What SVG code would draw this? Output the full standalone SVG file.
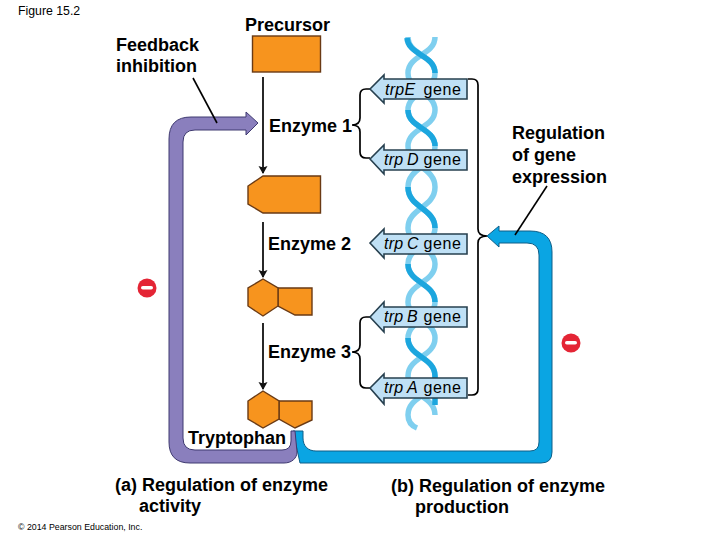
<svg xmlns="http://www.w3.org/2000/svg" width="720" height="540" viewBox="0 0 720 540">
<defs>
<marker id="ah" markerWidth="8" markerHeight="11" refX="7" refY="5" orient="auto" markerUnits="userSpaceOnUse"><path d="M0,0.5 L8,5 L0,9.5 L1.5,5 Z" fill="#111"/></marker>
</defs>
<style>
text{font-family:"Liberation Sans",Arial,sans-serif;fill:#000}
.b{font-weight:bold;font-size:18px}
.g{font-size:16px;letter-spacing:.6px}
.g .i{font-style:italic;letter-spacing:.3px}
.o{fill:#f7941e;stroke:#6a3a14;stroke-width:1.4}
.lab{fill:#bfe0f5;stroke:#27404f;stroke-width:1.6}
.sh{fill:none;stroke:#111;stroke-width:1.8}
.br{fill:none;stroke:#000;stroke-width:1.7}
.st{fill:none;stroke-width:5.5}
.min{fill:#e42535}
</style>
<rect width="720" height="540" fill="#fff"/>
<g id="dna">
<path class="st" stroke="#7fcfef" d="M408,37 C408,55 435,55 435,73 C435,92 408,92 408,110 C408,128 435,128 435,146 C435,167 408,167 408,187 C408,208 435,208 435,228 C435,246 408,246 408,264 C408,283 435,283 435,302 C435,320 408,320 408,338 C408,357 435,357 435,376 C435,396 408,396 408,415 C408,422 412,426 417,428"/>
<path class="st" stroke="#7fcfef" d="M435,37 C435,55 408,55 408,73 C408,92 435,92 435,110 C435,128 408,128 408,146 C408,167 435,167 435,187 C435,208 408,208 408,228 C408,246 435,246 435,264 C435,283 408,283 408,302 C408,320 435,320 435,338 C435,357 408,357 408,376 C408,396 435,396 435,415"/>
<path class="st" stroke="#1ca6de" d="M407,38 C408,55 435,55 435,73 M408,110 C408,128 435,128 435,146 M408,187 C408,208 435,208 435,228 M408,264 C408,283 435,283 435,302 M408,338 C408,357 435,357 435,376 L435,405"/>
</g>
<g id="connectors">
<line class="sh" x1="263" y1="77" x2="263" y2="173" marker-end="url(#ah)"/>
<line class="sh" x1="263" y1="222" x2="263" y2="277" marker-end="url(#ah)"/>
<line class="sh" x1="263" y1="323" x2="263" y2="389" marker-end="url(#ah)"/>
<path id="blue-loop" fill="#0aa5e3" stroke="#0f5f88" stroke-width="1" d="M293,431 L303,431 L303,438 C303,446 308,451 316,451 L530,451 Q539,451 539,442 L539,255 Q539,243 527,243 L499,243 L499,247 L487,236 L499,226 L499,231 L530,231 Q552,231 552,252 L552,452 Q552,463 541,463 L300,463 Z"/>
<path id="purple-loop" fill="#8a7fbd" stroke="#3f3a70" stroke-width="1" d="M291,431 L291,441 Q291,450 282,450 L195,450 Q183,450 183,438 L183,142 Q183,130 195,130 L246,130 L246,135 L258,123 L246,112 L246,117 L191,117 Q169,117 169,139 L169,442 Q169,463 190,463 L284,463 C292,463 297,458 297,452 L295,431 Z"/>
<line x1="193" y1="78" x2="217" y2="123" stroke="#000" stroke-width="1.6"/>
<line x1="547" y1="186" x2="515" y2="235" stroke="#000" stroke-width="1.6"/>
<path class="br" d="M370,89 L366,89 Q360,89 360,95 L360,118 Q360,125 352,125 Q360,125 360,132 L360,152 Q360,158 366,158 L370,158"/>
<path class="br" d="M370,317 L366,317 Q360,317 360,323 L360,345 Q360,352 352,352 Q360,352 360,359 L360,382 Q360,388 366,388 L370,388"/>
<path class="br" d="M468,79 L472,79 Q478,79 478,85 L478,229 Q478,236 487,236 Q478,236 478,243 L478,389 Q478,395 472,395 L468,395"/>
</g>
<g id="precursor"><rect class="o" x="252.5" y="36" width="68" height="36"/></g>
<g id="intermediate1"><path class="o" d="M263,176 L320.5,176 L320.5,213 L263,213 L248,204 L248,186 Z"/></g>
<g id="intermediate2"><path class="o" d="M278,288 L312,288 L312,315 L295,315 L278,306 Z"/><path class="o" d="M263,279 L278,288 L278,306 L263,316 L248,306 L248,288 Z"/></g>
<g id="tryptophan-shape"><path class="o" d="M279,401 L312,401 L312,420 L295,428 L279,419 Z"/><path class="o" d="M263,391 L279,401 L279,419 L263,428 L248,419 L248,401 Z"/></g>
<g id="gene-e"><path class="lab" d="M370,89 L384,75 L384,79 L467,79 L467,99 L384,99 L384,103 Z"/><text class="g" y="95"><tspan class="i" x="385">trpE</tspan><tspan x="418.5"> gene</tspan></text></g>
<g id="gene-d"><path class="lab" d="M370,159 L384,145 L384,150 L467,150 L467,170 L384,170 L384,174 Z"/><text class="g" y="165"><tspan class="i" x="384">trp</tspan><tspan class="i" x="407">D</tspan><tspan x="418.5"> gene</tspan></text></g>
<g id="gene-c"><path class="lab" d="M370,243 L384,229 L384,234 L467,234 L467,254 L384,254 L384,258 Z"/><text class="g" y="249"><tspan class="i" x="384">trp</tspan><tspan class="i" x="407">C</tspan><tspan x="418.5"> gene</tspan></text></g>
<g id="gene-b"><path class="lab" d="M370,317 L384,302 L384,307 L467,307 L467,327 L384,327 L384,332 Z"/><text class="g" y="322"><tspan class="i" x="384">trp</tspan><tspan class="i" x="407">B</tspan><tspan x="418.5"> gene</tspan></text></g>
<g id="gene-a"><path class="lab" d="M370,388 L384,374 L384,378 L467,378 L467,398 L384,398 L384,404 Z"/><text class="g" y="393"><tspan class="i" x="384">trp</tspan><tspan class="i" x="407">A</tspan><tspan x="418.5"> gene</tspan></text></g>
<g id="minus-a"><circle class="min" cx="147" cy="288" r="9.5"/><rect x="141" y="286" width="12" height="3.6" rx="1.8" fill="#fff"/></g>
<g id="minus-b"><circle class="min" cx="571" cy="343" r="9.5"/><rect x="565" y="341" width="12" height="3.6" rx="1.8" fill="#fff"/></g>
<g id="labels">
<text x="18" y="15" font-size="12.3">Figure 15.2</text>
<text class="b" x="245" y="31">Precursor</text>
<text class="b" x="116" y="51">Feedback</text>
<text class="b" x="116" y="72">inhibition</text>
<text class="b" x="269" y="132">Enzyme 1</text>
<text class="b" x="268" y="250">Enzyme 2</text>
<text class="b" x="268" y="358">Enzyme 3</text>
<text class="b" x="512" y="139">Regulation</text>
<text class="b" x="512" y="161">of gene</text>
<text class="b" x="512" y="183">expression</text>
<text class="b" x="188" y="444">Tryptophan</text>
<text class="b" x="115" y="491">(a) Regulation of enzyme</text>
<text class="b" x="139" y="512">activity</text>
<text class="b" x="391" y="492">(b) Regulation of enzyme</text>
<text class="b" x="415" y="513">production</text>
<text x="18" y="530" font-size="8.8">© 2014 Pearson Education, Inc.</text>
</g>
</svg>
